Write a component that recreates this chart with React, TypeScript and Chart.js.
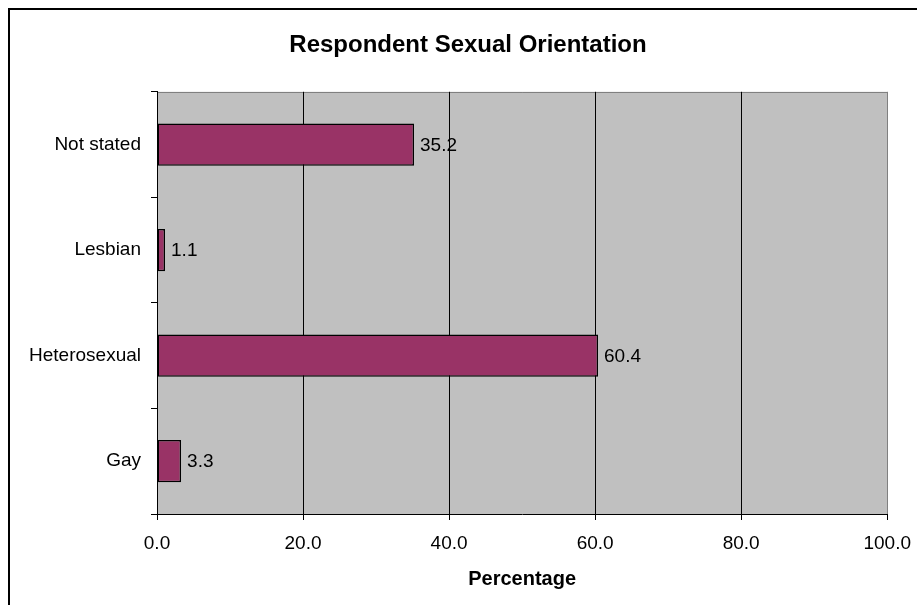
import React, { useEffect, useRef } from "react";
import { Chart, registerables } from "chart.js";

Chart.register(...registerables);

// Survey categories, listed top to bottom
const categories = ["Not stated", "Lesbian", "Heterosexual", "Gay"];
// Share of respondents, in percent
const percentages = [35.2, 1.1, 60.4, 3.3];
// Horizontal axis range and step
const axisMin = 0;
const axisMax = 100;
const axisStep = 20;

const FONT = '"Liberation Sans", Arial, Helvetica, sans-serif';

// Grey plot background with a darker top edge
const plotBackground = {
  id: "plotBackground",
  beforeDraw(chart: any) {
    const { ctx, chartArea } = chart;
    if (!chartArea) return;
    ctx.save();
    ctx.fillStyle = "#C0C0C0";
    ctx.fillRect(chartArea.left, chartArea.top, chartArea.right - chartArea.left, chartArea.bottom - chartArea.top);
    ctx.strokeStyle = "#808080";
    ctx.lineWidth = 1;
    ctx.beginPath();
    ctx.moveTo(chartArea.left, Math.round(chartArea.top) + 0.5);
    ctx.lineTo(chartArea.right, Math.round(chartArea.top) + 0.5);
    ctx.stroke();
    ctx.restore();
  },
};

// Value written just past the end of each bar
const valueLabels = {
  id: "valueLabels",
  afterDatasetsDraw(chart: any) {
    const { ctx } = chart;
    const meta = chart.getDatasetMeta(0);
    const data = chart.data.datasets[0].data as number[];
    ctx.save();
    ctx.font = `19px ${FONT}`;
    ctx.fillStyle = "#000";
    ctx.textAlign = "left";
    ctx.textBaseline = "middle";
    meta.data.forEach((bar: any, i: number) => {
      ctx.fillText(data[i].toFixed(1), bar.x + 6, bar.y + 1);
    });
    ctx.restore();
  },
};

export default function App() {
  const canvasRef = useRef<HTMLCanvasElement | null>(null);

  useEffect(() => {
    if (!canvasRef.current) return;
    const chart = new Chart(canvasRef.current, {
      type: "bar",
      data: {
        labels: categories,
        datasets: [
          {
            data: percentages,
            backgroundColor: "#993366",
            borderColor: "#000000",
            borderWidth: 1.5,
            borderSkipped: false,
            barPercentage: 0.4,
            categoryPercentage: 1,
          },
        ],
      },
      options: {
        indexAxis: "y",
        animation: false,
        responsive: false,
        devicePixelRatio: 1,
        layout: { padding: { left: 3, right: 0, top: 0, bottom: 0 } },
        plugins: {
          legend: { display: false },
          tooltip: { enabled: false },
          title: {
            display: true,
            text: "Respondent Sexual Orientation",
            color: "#000",
            font: { family: FONT, size: 24, weight: "bold" },
            padding: { top: 21, bottom: 32 },
          },
        },
        scales: {
          x: {
            min: axisMin,
            max: axisMax,
            afterFit: (s: any) => {
              s.height = 91;
            },
            ticks: {
              stepSize: axisStep,
              color: "#000",
              font: { family: FONT, size: 19 },
              padding: 12,
              maxRotation: 0,
              callback: (v: any) => Number(v).toFixed(1),
            },
            grid: {
              color: (c: any) => (c.tick && c.tick.value === axisMax ? "#808080" : "#000"),
              lineWidth: 1,
              tickLength: 6,
              tickColor: "#000",
            },
            border: { color: "#000", width: 1 },
            title: {
              display: true,
              text: "Percentage",
              color: "#000",
              font: { family: FONT, size: 20, weight: "bold" },
              padding: { top: 0, bottom: 14 },
            },
          },
          y: {
            afterFit: (s: any) => {
              s.width = 144;
            },
            ticks: {
              color: "#000",
              font: { family: FONT, size: 19 },
              padding: 10,
            },
            grid: {
              drawOnChartArea: false,
              drawTicks: true,
              tickLength: 6,
              color: "#000",
            },
            border: { color: "#000", width: 1 },
          },
        },
      },
      plugins: [plotBackground, valueLabels],
    });
    return () => chart.destroy();
  }, []);

  return (
    <div
      style={{
        position: "fixed",
        left: 8,
        top: 8,
        width: 909,
        height: 597,
        boxSizing: "border-box",
        borderLeft: "2px solid #000",
        borderTop: "2px solid #000",
        background: "#fff",
        overflow: "hidden",
      }}
    >
      <canvas ref={canvasRef} width={913} height={595} style={{ display: "block", width: 913, height: 595 }} />
    </div>
  );
}
